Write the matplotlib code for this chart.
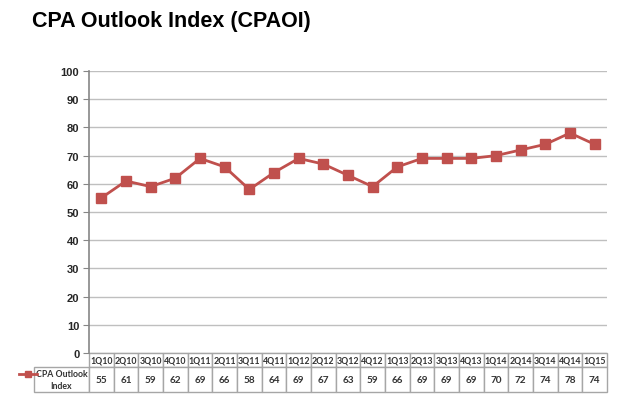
import numpy as np
import matplotlib
matplotlib.use("Agg")
import matplotlib.pyplot as plt
from matplotlib.lines import Line2D

quarters = ["1Q10", "2Q10", "3Q10", "4Q10", "1Q11", "2Q11", "3Q11", "4Q11",
            "1Q12", "2Q12", "3Q12", "4Q12", "1Q13", "2Q13", "3Q13", "4Q13",
            "1Q14", "2Q14", "3Q14", "4Q14", "1Q15"]
index_vals = [55, 61, 59, 62, 69, 66, 58, 64, 69, 67, 63, 59, 66, 69, 69, 69,
              70, 72, 74, 78, 74]
series_name = "CPA Outlook\nIndex"

RED = "#C0504D"
GRID = "#BFBFBF"
EDGE = "#A6A6A6"

fig = plt.figure(figsize=(6.24, 4.10), dpi=100)
fig.patch.set_facecolor("white")

W, H = 624, 410
left, right, top, bottom = 89, 607, 72, 354
axw, axh = right - left, bottom - top
ax = fig.add_axes([left / W, 1 - bottom / H, axw / W, axh / H])

x = np.arange(len(quarters))
ax.plot(x, index_vals, color=RED, lw=2, marker="s", ms=6.5, mec=RED, mfc=RED, zorder=3)

ax.set_xlim(-0.5, len(quarters) - 0.5)
ax.set_ylim(0, 100)
ax.set_yticks(np.arange(0, 101, 10))
ax.yaxis.grid(True, color=GRID, lw=1)
ax.set_axisbelow(True)
ax.set_xticks([])
for s in ["top", "right", "bottom"]:
    ax.spines[s].set_visible(False)
ax.spines["left"].set_color("#868686")
ax.spines["left"].set_linewidth(1.2)
ax.tick_params(axis="y", length=4, color="#868686", pad=3,
               labelsize=8, labelcolor="#262626")
for lab in ax.get_yticklabels():
    lab.set_fontweight("bold")
    lab.set_fontfamily("Liberation Sans")

# data table under the plot, sizes in axes units
hdr_h, row_h = 14 / axh, 25 / axh
lab_w = (left - 16) / axw
col_w = 1 / len(quarters)

tbl = ax.table(cellText=[[str(v) for v in index_vals]],
               rowLabels=[series_name], colLabels=quarters,
               cellLoc="center", rowLoc="right", loc="bottom")
tbl.auto_set_font_size(False)
for (r, c), cell in tbl.get_celld().items():
    cell.set_edgecolor(EDGE)
    cell.set_linewidth(1)
    cell.set_height(hdr_h if r == 0 else row_h)
    cell.set_width(lab_w if c == -1 else col_w)
    t = cell.get_text()
    t.set_fontsize(6.3 if r == 0 else 7.2)
    t.set_fontfamily("Lato")
    t.set_fontweight("bold")
    t.set_color("#333333")
    if c == -1:
        t.set_fontsize(6.3)
        t.set_multialignment("center")
        t.set_linespacing(1.3)
        cell.PAD = 0.03

# legend key inside the row label cell
fig.add_artist(Line2D([19 / W, 37 / W], [1 - 375 / H] * 2, color=RED, lw=2,
                      transform=fig.transFigure))
fig.add_artist(Line2D([28 / W], [1 - 375 / H], color=RED, marker="s", ms=5,
                      transform=fig.transFigure))

fig.text(32 / W, 1 - 22 / H, "CPA Outlook Index (CPAOI)", fontsize=15.5,
         fontweight="bold", family="Liberation Sans", va="center", ha="left")

fig.savefig("out.png", dpi=100)
